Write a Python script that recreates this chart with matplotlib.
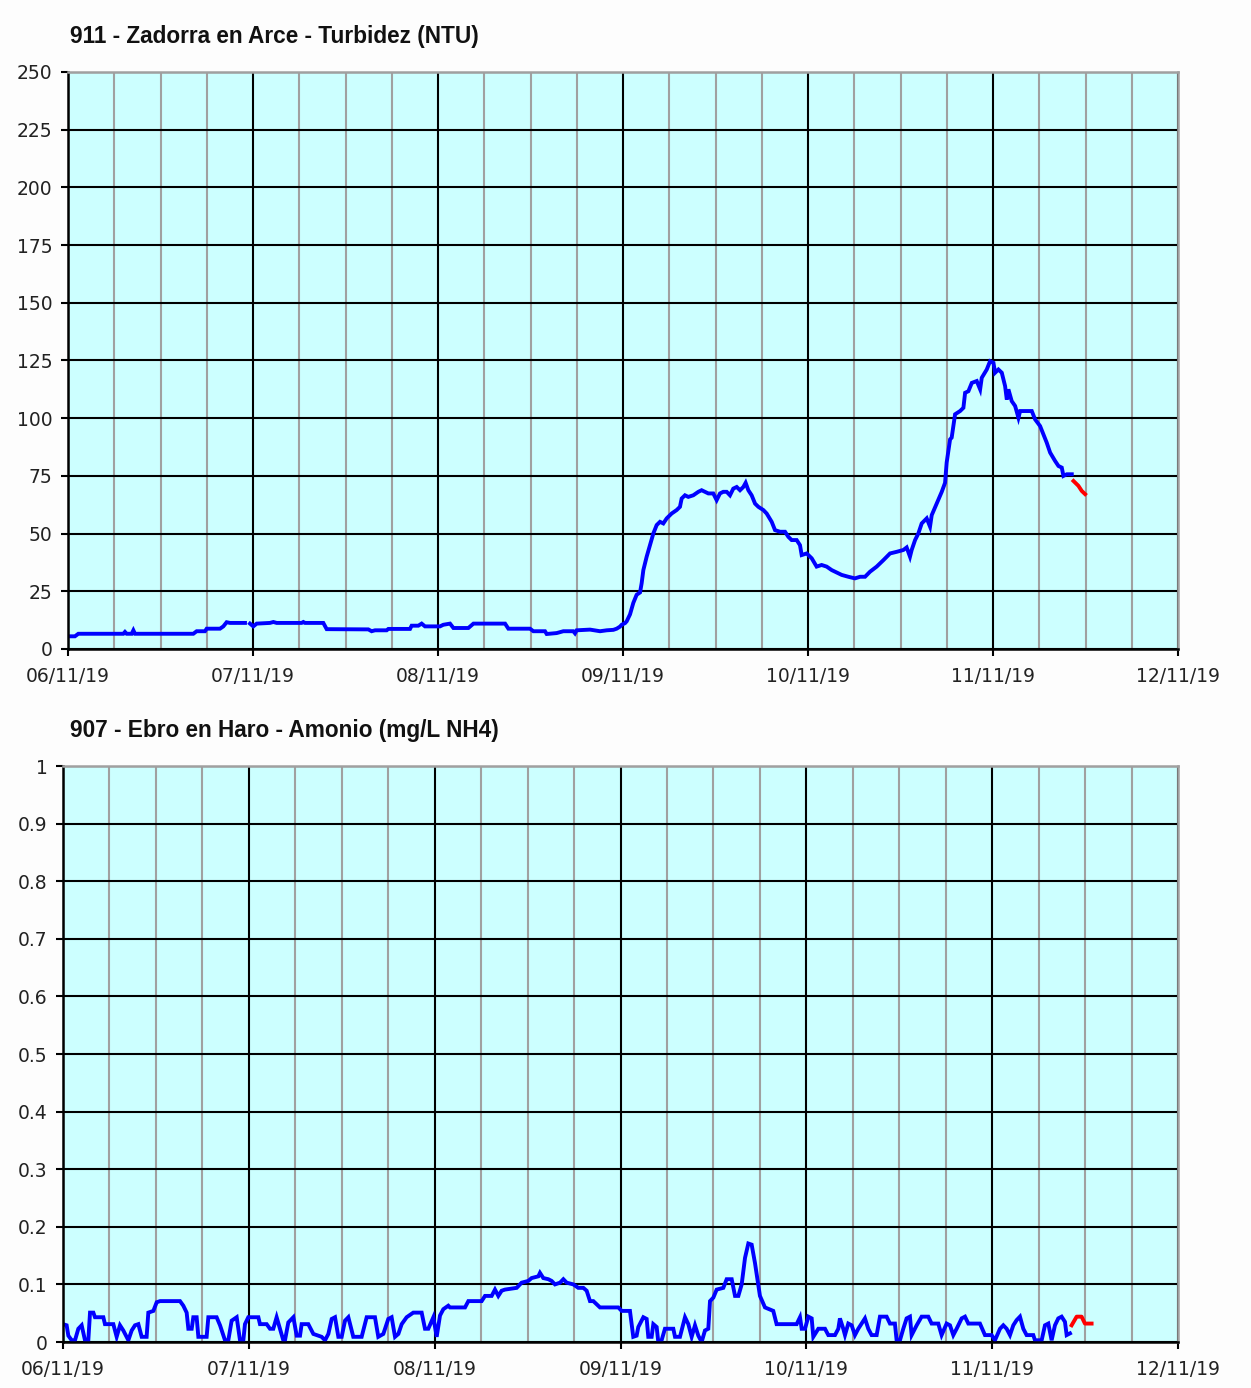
import matplotlib
import matplotlib.pyplot as plt
import numpy as np

# hours counted from 06/11/19 00:00
turb_h = [0, 0.9, 1.34, 7.18, 7.39, 7.61, 8.26, 8.48, 8.69, 16.26, 16.69, 17.77, 17.99,
          19.72, 20.15, 20.58, 21.02, 22.96, 23.3, 23.61, 24.04, 24.48, 26.2, 26.64, 27.07,
          30.31, 30.53, 30.75, 33.12, 33.56, 38.96, 39.39, 39.83, 41.34, 41.56, 44.37,
          44.58, 45.45, 45.88, 46.31, 48.26, 48.69, 49.56, 50.0, 51.94, 52.6, 56.7, 57.13,
          59.94, 60.37, 61.88, 62.1, 63.39, 64.26, 65.55, 65.77, 65.99, 67.72, 69.02,
          69.89, 70.75, 71.18, 71.61, 71.83, 72.26, 72.48, 72.91, 73.34, 73.77, 74.21,
          74.42, 74.64, 75.07, 75.5, 75.94, 76.37, 76.8, 77.23, 77.67, 78.31, 78.96, 79.39,
          79.61, 80.04, 80.47, 81.12, 81.77, 82.2, 82.63, 83.07, 83.71, 84.15, 84.58, 85.01,
          85.45, 85.88, 86.31, 86.75, 87.18, 87.61, 87.91, 88.26, 88.69, 89.13, 89.56,
          90.21, 90.64, 91.29, 91.72, 92.37, 93.02, 93.45, 93.88, 94.53, 94.96, 95.18,
          95.83, 96.48, 97.12, 97.77, 98.42, 99.07, 99.5, 100.37, 101.23, 102.08, 102.76,
          103.4, 104.05, 104.91, 105.78, 106.64, 107.5, 108.37, 108.8, 109.23, 109.45,
          109.89, 110.32, 110.75, 111.4, 111.83, 112.05, 112.7, 113.35, 113.78, 113.99,
          114.43, 114.64, 115.08, 115.73, 116.16, 116.38, 116.81, 117.25, 117.89, 118.33,
          118.54, 119.19, 119.62, 120.06, 120.27, 120.7, 121.14, 121.57, 121.79, 122.0,
          122.43, 122.87, 123.3, 123.52, 125.03, 125.46, 126.11, 126.54, 126.97, 127.41,
          128.05, 128.49, 128.92, 129.14, 129.57, 130.22]
turb_v = [5.5, 5.5, 6.6, 6.6, 7.4, 6.6, 6.6, 8.1, 6.6, 6.6, 7.7, 7.7, 8.8,
          8.8, 9.8, 11.6, 11.3, 11.3, np.nan, 11.0, 9.8, 11.0, 11.3, 11.7, 11.3,
          11.3, 11.7, 11.3, 11.3, 8.6, 8.5, 7.7, 8.1, 8.1, 8.7, 8.7,
          10.1, 10.1, 11.0, 9.8, 9.8, 10.5, 11.0, 9.1, 9.1, 11.0, 11.0, 8.8,
          8.8, 7.7, 7.7, 6.5, 6.9, 7.7, 7.7, 6.8, 8.1, 8.4, 7.7,
          8.1, 8.3, 8.8, 9.7, 10.5, 11.2, 12.0, 15.0, 20.0, 23.5, 24.5,
          28.5, 34.2, 40.0, 45.0, 50.1, 53.7, 55.1, 54.4, 56.6, 58.7, 60.2, 61.6,
          65.2, 66.6, 65.9, 66.6, 68.1, 68.8, 68.1, 67.4, 67.4, 64.5, 67.4, 68.1,
          68.1, 66.6, 69.5, 70.2, 68.8, 70.2, 72.0, 68.8, 66.6, 63.0, 61.6,
          60.2, 58.7, 55.1, 51.5, 50.8, 50.8, 48.6, 47.2, 47.2, 45.0, 40.7,
          41.4, 39.3, 35.7, 36.4, 35.7, 34.2, 33.5, 32.1, 31.3, 30.6, 31.3,
          31.3, 33.5, 35.7, 38.5, 41.4, 42.1, 42.9, 44.0, 40.0, 42.9,
          47.2, 50.1, 54.4, 56.6, 53.0, 58.0, 63.0, 68.1, 72.0, 80.8,
          90.8, 91.6, 101.7, 103.1, 104.5, 111.0, 111.7, 115.3, 116.1, 112.5,
          117.5, 121.1, 124.7, 124.0, 119.7, 121.1, 119.7, 113.9, 108.1, 112.5,
          107.4, 105.3, 100.2, 103.1, 103.1, 99.5, 96.6, 93.0, 89.4, 85.1,
          81.5, 79.3, 78.6, 75.0, 75.7, 75.7]
turb_prev_h = [130.44, 131.08, 131.51, 131.95]
turb_prev_v = [72.8, 70.7, 68.5, 67.1]

amon_h = [0.0, 0.47, 0.69, 1.12, 1.55, 1.98, 2.41, 2.84, 3.27, 3.49, 3.92, 4.13, 5.21, 5.42,
          6.5, 6.93, 7.36, 7.79, 8.44, 8.87, 9.3, 9.73, 10.16, 10.8, 11.02, 11.67, 12.1,
          12.53, 15.11, 15.54, 15.97, 16.19, 16.62, 16.83, 17.26, 17.48, 18.55, 18.77,
          19.84, 20.28, 20.92, 21.35, 21.78, 22.43, 22.86, 23.29, 23.5, 23.93, 25.23,
          25.44, 26.3, 26.73, 27.16, 27.59, 28.02, 28.45, 28.67, 29.1, 29.75, 30.18,
          30.61, 30.82, 31.68, 32.33, 33.4, 33.84, 34.27, 34.7, 35.13, 35.56, 35.99,
          36.42, 36.85, 37.49, 38.57, 39.22, 40.29, 40.72, 41.37, 42.01, 42.44, 42.88,
          43.31, 43.74, 44.38, 45.24, 46.32, 46.75, 47.18, 47.83, 48.26, 48.69, 49.12,
          49.76, 49.98, 51.92, 52.35, 54.07, 54.5, 55.36, 55.79, 56.22, 56.65, 57.08,
          58.59, 59.23, 60.09, 60.52, 61.39, 61.6, 62.03, 62.68, 63.11, 63.54, 64.19,
          64.62, 65.05, 65.91, 66.55, 67.2, 67.63, 68.06, 68.49, 69.35, 71.72, 72.15,
          73.22, 73.65, 74.08, 74.3, 74.95, 75.38, 75.59, 76.02, 76.24, 76.67, 76.88,
          77.31, 77.74, 78.82, 79.04, 79.68, 80.33, 80.76, 81.19, 81.62, 82.05, 82.48,
          82.91, 83.34, 83.56, 83.99, 84.42, 85.28, 85.71, 86.36, 86.79, 87.22, 87.65,
          88.08, 88.51, 88.94, 89.37, 90.01, 90.66, 91.73, 92.16, 94.75, 95.18, 95.4,
          95.83, 96.26, 96.69, 96.9, 97.55, 98.41, 98.84, 99.7, 100.13, 100.34, 100.77,
          100.99, 101.42, 101.85, 102.28, 102.71, 103.14, 103.57, 104.0, 104.43, 105.08,
          105.51, 106.37, 106.8, 107.44, 107.66, 108.09, 108.52, 108.95, 109.38, 109.6,
          110.25, 110.89, 111.75, 112.18, 113.04, 113.47, 114.12, 114.55, 114.98,
          115.41, 116.06, 116.49, 116.92, 118.42, 119.07, 119.93, 120.36, 121.01,
          121.44, 121.87, 122.3, 122.73, 123.16, 123.59, 124.02, 124.45, 125.31,
          125.53, 126.39, 126.82, 127.25, 127.68, 128.11, 128.54, 128.97, 129.4,
          129.62, 130.05]
amon_v = [0.031, 0.029, 0.011, 0.003, 0.003, 0.023, 0.029, 0.003, 0.003, 0.051, 0.051, 0.043,
          0.043, 0.031, 0.031, 0.009, 0.029, 0.02, 0.003, 0.02, 0.029, 0.031, 0.009, 0.009,
          0.051, 0.054, 0.069, 0.071, 0.071, 0.063, 0.051, 0.023, 0.023, 0.043, 0.043,
          0.009, 0.009, 0.043, 0.043, 0.029, 0.003, 0.003, 0.037, 0.043, 0.003, 0.003,
          0.031, 0.043, 0.043, 0.031, 0.031, 0.023, 0.023, 0.043, 0.023, 0.003, 0.003,
          0.034, 0.043, 0.011, 0.011, 0.031, 0.031, 0.014, 0.009, 0.003, 0.014, 0.04,
          0.043, 0.009, 0.009, 0.037, 0.043, 0.009, 0.009, 0.043, 0.043, 0.009, 0.014,
          0.04, 0.043, 0.009, 0.014, 0.031, 0.043, 0.051, 0.051, 0.023, 0.023, 0.043,
          0.009, 0.046, 0.057, 0.063, 0.06, 0.06, 0.071, 0.071, 0.08, 0.08, 0.091, 0.08,
          0.089, 0.091, 0.094, 0.103, 0.106, 0.111, 0.114, 0.12, 0.111, 0.109, 0.106,
          0.1, 0.103, 0.109, 0.103, 0.1, 0.094, 0.094, 0.089, 0.071, 0.071, 0.06, 0.06,
          0.054, 0.054, 0.009, 0.011, 0.026, 0.043, 0.04, 0.009, 0.009, 0.031, 0.026,
          0.0, 0.003, 0.023, 0.023, 0.009, 0.009, 0.043, 0.031, 0.009, 0.029, 0.011,
          0.0, 0.02, 0.023, 0.071, 0.077, 0.091, 0.094, 0.109, 0.109, 0.08, 0.08, 0.1,
          0.146, 0.171, 0.169, 0.137, 0.08, 0.06, 0.054, 0.031, 0.031, 0.043, 0.023,
          0.023, 0.044, 0.041, 0.009, 0.023, 0.023, 0.012, 0.012, 0.023, 0.041, 0.023,
          0.012, 0.032, 0.029, 0.012, 0.023, 0.032, 0.041, 0.023, 0.012, 0.012,
          0.044, 0.044, 0.032, 0.032, 0.003, 0.003, 0.023, 0.041, 0.044, 0.012,
          0.029, 0.044, 0.044, 0.032, 0.032, 0.012, 0.032, 0.029, 0.012,
          0.023, 0.041, 0.044, 0.032, 0.032, 0.012, 0.012, 0.003, 0.023,
          0.029, 0.023, 0.012, 0.029, 0.038, 0.044, 0.023, 0.012, 0.012,
          0.003, 0.003, 0.029, 0.032, 0.003, 0.029, 0.041, 0.044, 0.035,
          0.012, 0.015]
amon_prev_h = [130.26, 130.91, 131.55, 131.98, 132.84]
amon_prev_v = [0.029, 0.044, 0.044, 0.032, 0.032]

day_labels = ["06/11/19", "07/11/19", "08/11/19", "09/11/19", "10/11/19", "11/11/19", "12/11/19"]
turb_ticks = [0, 25, 50, 75, 100, 125, 150, 175, 200, 225, 250]
amon_ticks = [0, 0.1, 0.2, 0.3, 0.4, 0.5, 0.6, 0.7, 0.8, 0.9, 1]
amon_tick_labels = ["0", "0.1", "0.2", "0.3", "0.4", "0.5", "0.6", "0.7", "0.8", "0.9", "1"]

matplotlib.rcParams.update({"font.family": "DejaVu Sans", "font.size": 13})

fig = plt.figure(figsize=(12.51, 13.88), dpi=100, facecolor="#fdfdfd")
ax1 = fig.add_axes([68 / 1251, 1 - 649 / 1388, 1110 / 1251, 577 / 1388])
ax2 = fig.add_axes([63 / 1251, 1 - 1342 / 1388, 1115 / 1251, 576 / 1388])

def style_axis(ax, yticks, ylabels, ymax):
    ax.set_facecolor("#ccffff")
    ax.set_xlim(0, 144)
    ax.set_ylim(0, ymax)
    ax.set_xticks(np.arange(0, 145, 24))
    ax.set_xticks(np.arange(6, 144, 6), minor=True)
    ax.set_xticklabels(day_labels)
    ax.set_yticks(yticks)
    ax.set_yticklabels(ylabels)
    ax.set_axisbelow(True)
    ax.grid(which="major", color="black", lw=1.5)
    ax.grid(which="minor", axis="x", color="#a0a0a0", lw=1.5)
    ax.tick_params(which="major", direction="out", length=5, width=1.5, color="black",
                   labelcolor="#222222", labelsize=13.5)
    ax.tick_params(axis="x", pad=8)
    ax.tick_params(axis="y", pad=6)
    ax.tick_params(which="minor", length=0)
    for side in ["left", "bottom"]:
        ax.spines[side].set_color("black")
        ax.spines[side].set_linewidth(1.8)
    for side in ["top", "right"]:
        ax.spines[side].set_color("#a0a0a0")
        ax.spines[side].set_linewidth(1.8)

style_axis(ax1, turb_ticks, [str(t) for t in turb_ticks], 250)
ax1.plot(turb_h, turb_v, color="#0000ff", lw=2.8, solid_joinstyle="miter")
ax1.plot(turb_prev_h, turb_prev_v, color="#ff0000", lw=2.8)

style_axis(ax2, amon_ticks, amon_tick_labels, 1)
ax2.plot(amon_h, amon_v, color="#0000ff", lw=2.8, solid_joinstyle="miter")
ax2.plot(amon_prev_h, amon_prev_v, color="#ff0000", lw=2.8)

title_kw = dict(family="Liberation Sans", fontweight="bold", fontsize=16.3, color="#111111",
                ha="left", va="center")
fig.text(70 / 1251, 1 - 37 / 1388, "911 - Zadorra en Arce - Turbidez (NTU)", **title_kw)
fig.text(70 / 1251, 1 - 730 / 1388, "907 - Ebro en Haro - Amonio (mg/L NH4)", **title_kw)

fig.savefig("out.png", dpi=100, facecolor=fig.get_facecolor())
